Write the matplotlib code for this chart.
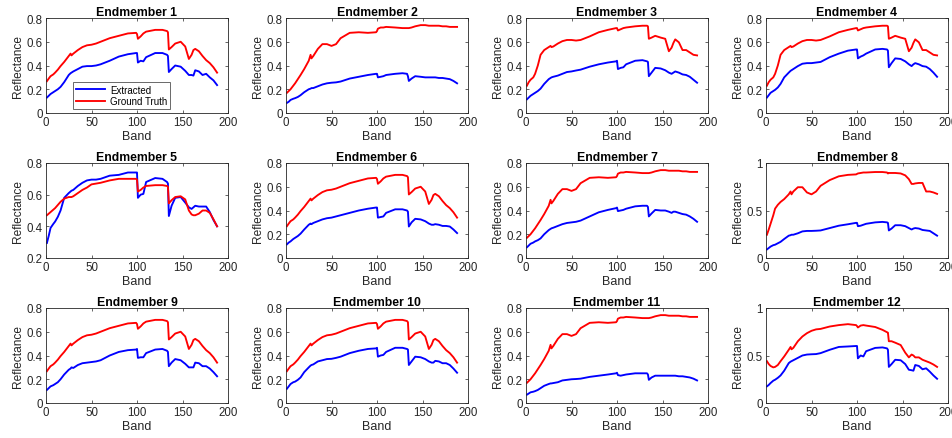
import matplotlib
matplotlib.use("Agg")
import matplotlib.pyplot as plt

plt.rcParams['font.family'] = ['Liberation Sans', 'DejaVu Sans']

bands = [1, 3, 5, 8, 10, 13, 16, 20, 25, 27, 28, 30, 35, 40, 45, 50, 55, 60, 70, 80, 90,
         99, 100, 101, 104, 107, 110, 120, 128, 133, 134, 135, 138, 142, 148, 153, 157,
         160, 162, 164, 168, 172, 176, 180, 184, 188]

# Ground-truth spectra
gt_a = [0.268, 0.29, 0.31, 0.325, 0.34, 0.365, 0.395, 0.43, 0.48, 0.50, 0.485, 0.50, 0.53, 0.555,
        0.57, 0.575, 0.585, 0.60, 0.63, 0.65, 0.67, 0.675, 0.665, 0.625, 0.645, 0.67, 0.685, 0.70,
        0.70, 0.69, 0.68, 0.535, 0.555, 0.585, 0.60, 0.56, 0.455, 0.49, 0.53, 0.54, 0.52, 0.48,
        0.445, 0.42, 0.385, 0.34]
gt_b = [0.17, 0.185, 0.20, 0.23, 0.25, 0.285, 0.32, 0.37, 0.44, 0.49, 0.46, 0.48, 0.54, 0.58,
        0.58, 0.565, 0.58, 0.63, 0.675, 0.68, 0.675, 0.68, 0.69, 0.71, 0.72, 0.72, 0.725, 0.72,
        0.715, 0.715, 0.715, 0.715, 0.72, 0.73, 0.74, 0.74, 0.735, 0.735, 0.735, 0.735, 0.735,
        0.73, 0.73, 0.725, 0.725, 0.725]
gt_c = [0.23, 0.26, 0.28, 0.30, 0.33, 0.40, 0.49, 0.53, 0.555, 0.565, 0.555, 0.56, 0.585, 0.605,
        0.615, 0.615, 0.61, 0.615, 0.645, 0.68, 0.70, 0.715, 0.715, 0.695, 0.705, 0.715, 0.72,
        0.73, 0.735, 0.735, 0.73, 0.625, 0.635, 0.65, 0.635, 0.625, 0.52, 0.55, 0.59, 0.62, 0.595,
        0.53, 0.53, 0.51, 0.49, 0.485]
gt_5 = [0.47, 0.48, 0.49, 0.505, 0.515, 0.535, 0.555, 0.575, 0.585, 0.585, 0.585, 0.59, 0.61,
        0.63, 0.645, 0.665, 0.67, 0.675, 0.69, 0.70, 0.70, 0.70, 0.695, 0.62, 0.63, 0.645, 0.655,
        0.66, 0.66, 0.655, 0.65, 0.545, 0.565, 0.585, 0.59, 0.57, 0.50, 0.475, 0.47, 0.47, 0.48,
        0.50, 0.50, 0.485, 0.445, 0.40]
gt_8 = [0.245, 0.30, 0.36, 0.45, 0.52, 0.56, 0.59, 0.62, 0.67, 0.70, 0.67, 0.70, 0.745, 0.745,
        0.69, 0.67, 0.70, 0.76, 0.82, 0.86, 0.875, 0.88, 0.885, 0.89, 0.895, 0.90, 0.90, 0.905,
        0.905, 0.90, 0.89, 0.895, 0.895, 0.895, 0.89, 0.87, 0.83, 0.78, 0.78, 0.785, 0.79, 0.79,
        0.70, 0.70, 0.69, 0.675]
gt_12 = [0.44, 0.41, 0.39, 0.375, 0.38, 0.40, 0.44, 0.49, 0.56, 0.59, 0.565, 0.58, 0.65, 0.70,
         0.735, 0.76, 0.775, 0.78, 0.805, 0.82, 0.83, 0.82, 0.81, 0.795, 0.815, 0.82, 0.815, 0.80,
         0.77, 0.745, 0.74, 0.65, 0.65, 0.635, 0.61, 0.53, 0.48, 0.51, 0.50, 0.48, 0.48, 0.455,
         0.44, 0.425, 0.405, 0.38]

# Extracted spectra
ex_1 = [0.13, 0.145, 0.16, 0.175, 0.185, 0.20, 0.22, 0.26, 0.32, 0.335, 0.34, 0.35, 0.37, 0.39,
        0.395, 0.395, 0.40, 0.41, 0.44, 0.475, 0.495, 0.505, 0.505, 0.425, 0.44, 0.435, 0.47,
        0.505, 0.505, 0.49, 0.48, 0.345, 0.37, 0.40, 0.39, 0.355, 0.32, 0.32, 0.315, 0.36, 0.35,
        0.32, 0.33, 0.30, 0.275, 0.235]
ex_2 = [0.085, 0.095, 0.11, 0.12, 0.125, 0.135, 0.15, 0.175, 0.20, 0.205, 0.21, 0.21, 0.225,
        0.24, 0.25, 0.255, 0.258, 0.265, 0.29, 0.305, 0.32, 0.33, 0.33, 0.30, 0.305, 0.31, 0.32,
        0.33, 0.335, 0.33, 0.31, 0.27, 0.29, 0.31, 0.305, 0.30, 0.30, 0.30, 0.30, 0.30, 0.295,
        0.295, 0.29, 0.285, 0.27, 0.25]
ex_3 = [0.115, 0.13, 0.145, 0.16, 0.17, 0.185, 0.205, 0.245, 0.285, 0.295, 0.30, 0.305, 0.315,
        0.33, 0.345, 0.35, 0.358, 0.365, 0.39, 0.41, 0.425, 0.435, 0.44, 0.37, 0.38, 0.385, 0.41,
        0.44, 0.445, 0.435, 0.43, 0.31, 0.34, 0.38, 0.375, 0.36, 0.34, 0.33, 0.34, 0.35, 0.34,
        0.325, 0.32, 0.305, 0.28, 0.255]
ex_4 = [0.13, 0.15, 0.17, 0.185, 0.195, 0.215, 0.245, 0.30, 0.34, 0.355, 0.36, 0.37, 0.395,
        0.415, 0.42, 0.42, 0.425, 0.43, 0.47, 0.50, 0.525, 0.535, 0.535, 0.46, 0.475, 0.485, 0.50,
        0.535, 0.54, 0.535, 0.525, 0.385, 0.42, 0.46, 0.455, 0.435, 0.41, 0.395, 0.41, 0.42, 0.41,
        0.395, 0.39, 0.37, 0.34, 0.305]
ex_5 = [0.295, 0.34, 0.39, 0.415, 0.43, 0.46, 0.50, 0.58, 0.61, 0.62, 0.625, 0.63, 0.655, 0.675,
        0.69, 0.695, 0.695, 0.70, 0.72, 0.725, 0.74, 0.74, 0.74, 0.58, 0.60, 0.605, 0.68, 0.705,
        0.70, 0.68, 0.67, 0.465, 0.53, 0.58, 0.585, 0.55, 0.52, 0.51, 0.52, 0.53, 0.525, 0.525,
        0.525, 0.49, 0.44, 0.40]
ex_6 = [0.115, 0.13, 0.14, 0.16, 0.17, 0.185, 0.205, 0.24, 0.28, 0.29, 0.285, 0.295, 0.31, 0.325,
        0.335, 0.34, 0.35, 0.36, 0.38, 0.40, 0.415, 0.425, 0.425, 0.34, 0.345, 0.35, 0.38, 0.41,
        0.41, 0.40, 0.39, 0.265, 0.30, 0.33, 0.325, 0.31, 0.29, 0.28, 0.28, 0.285, 0.28, 0.27,
        0.27, 0.265, 0.24, 0.21]
ex_7 = [0.09, 0.105, 0.12, 0.13, 0.14, 0.15, 0.165, 0.20, 0.235, 0.245, 0.25, 0.255, 0.27, 0.285,
        0.295, 0.30, 0.305, 0.315, 0.35, 0.385, 0.405, 0.42, 0.425, 0.395, 0.40, 0.405, 0.415,
        0.435, 0.44, 0.44, 0.43, 0.35, 0.375, 0.405, 0.40, 0.40, 0.39, 0.38, 0.39, 0.39, 0.38,
        0.37, 0.365, 0.35, 0.33, 0.305]
ex_8 = [0.09, 0.105, 0.12, 0.135, 0.14, 0.155, 0.17, 0.20, 0.235, 0.24, 0.245, 0.245, 0.26, 0.28,
        0.285, 0.285, 0.287, 0.29, 0.315, 0.34, 0.355, 0.37, 0.37, 0.335, 0.34, 0.35, 0.36, 0.375,
        0.38, 0.375, 0.37, 0.29, 0.31, 0.345, 0.345, 0.335, 0.315, 0.30, 0.31, 0.315, 0.31, 0.295,
        0.29, 0.285, 0.26, 0.235]
ex_9 = [0.11, 0.125, 0.14, 0.15, 0.16, 0.175, 0.20, 0.24, 0.28, 0.29, 0.30, 0.295, 0.32, 0.335,
        0.34, 0.345, 0.35, 0.36, 0.40, 0.43, 0.445, 0.45, 0.455, 0.38, 0.385, 0.385, 0.42, 0.45,
        0.455, 0.44, 0.43, 0.31, 0.34, 0.37, 0.36, 0.33, 0.30, 0.30, 0.30, 0.34, 0.335, 0.31, 0.31,
        0.29, 0.26, 0.225]
ex_10 = [0.12, 0.14, 0.16, 0.175, 0.18, 0.195, 0.215, 0.26, 0.30, 0.315, 0.32, 0.325, 0.35, 0.36,
         0.37, 0.372, 0.38, 0.39, 0.42, 0.44, 0.455, 0.46, 0.465, 0.39, 0.40, 0.405, 0.43, 0.465,
         0.465, 0.455, 0.45, 0.32, 0.35, 0.39, 0.385, 0.37, 0.35, 0.34, 0.34, 0.355, 0.35, 0.335,
         0.335, 0.32, 0.29, 0.255]
ex_11 = [0.07, 0.08, 0.09, 0.095, 0.10, 0.11, 0.125, 0.145, 0.16, 0.165, 0.165, 0.168, 0.175,
         0.19, 0.195, 0.20, 0.202, 0.205, 0.22, 0.23, 0.24, 0.25, 0.255, 0.235, 0.23, 0.235, 0.24,
         0.25, 0.25, 0.25, 0.24, 0.195, 0.215, 0.23, 0.23, 0.23, 0.23, 0.23, 0.23, 0.23, 0.225,
         0.225, 0.22, 0.215, 0.205, 0.19]
ex_12 = [0.175, 0.19, 0.21, 0.235, 0.245, 0.265, 0.29, 0.34, 0.42, 0.435, 0.44, 0.45, 0.475, 0.50,
         0.51, 0.513, 0.515, 0.525, 0.56, 0.59, 0.595, 0.60, 0.60, 0.47, 0.50, 0.49, 0.545, 0.58,
         0.585, 0.575, 0.56, 0.38, 0.41, 0.455, 0.45, 0.41, 0.35, 0.345, 0.34, 0.40, 0.39, 0.355,
         0.365, 0.33, 0.29, 0.255]

titles = ["Endmember %d" % i for i in range(1, 13)]
extracted = [ex_1, ex_2, ex_3, ex_4, ex_5, ex_6, ex_7, ex_8, ex_9, ex_10, ex_11, ex_12]
ground = [gt_a, gt_b, gt_c, gt_c, gt_5, gt_a, gt_b, gt_8, gt_a, gt_a, gt_b, gt_12]
ylims = [(0, 0.8)] * 4 + [(0.2, 0.8), (0, 0.8), (0, 0.8), (0, 1)] + [(0, 0.8)] * 3 + [(0, 1)]
yticks_08 = [0, 0.2, 0.4, 0.6, 0.8]
yticks_5 = [0.2, 0.4, 0.6, 0.8]
yticks_1 = [0, 0.5, 1]
xticks = [0, 50, 100, 150, 200]

W, H = 952, 439
fig = plt.figure(figsize=(W / 100, H / 100), dpi=100)
axcol = (0.15, 0.15, 0.15)

for i in range(12):
    r, c = divmod(i, 4)
    left = 46 + 240 * c
    top = 19 + 145 * r
    ax = fig.add_axes([left / W, 1 - (top + 95) / H, 182 / W, 95 / H])
    l1, = ax.plot(bands, extracted[i], color=(0, 0, 1), lw=1.35)
    l2, = ax.plot(bands, ground[i], color=(1, 0, 0), lw=1.35)
    ax.set_xlim(0, 200)
    ax.set_ylim(*ylims[i])
    ax.set_xticks(xticks)
    ax.set_xticklabels([str(v) for v in xticks])
    if ylims[i] == (0, 1):
        ax.set_yticks(yticks_1)
        ax.set_yticklabels(["0", "0.5", "1"])
    elif ylims[i] == (0.2, 0.8):
        ax.set_yticks(yticks_5)
        ax.set_yticklabels(["0.2", "0.4", "0.6", "0.8"])
    else:
        ax.set_yticks(yticks_08)
        ax.set_yticklabels(["0", "0.2", "0.4", "0.6", "0.8"])
    ax.tick_params(direction='in', top=True, right=True, length=2.5, width=0.5,
                   labelsize=8.3, colors=axcol, pad=2.5)
    for s in ax.spines.values():
        s.set_linewidth(0.6)
        s.set_color(axcol)
    ax.set_title(titles[i], fontsize=8.8, fontweight='bold', pad=2.5, color='black')
    ax.set_xlabel("Band", fontsize=9, labelpad=1, color=axcol)
    ax.set_ylabel("Reflectance", fontsize=8.6, labelpad=2, color=axcol)
    if i == 0:
        leg = ax.legend([l1, l2], ["Extracted", "Ground Truth"], loc='lower left',
                        bbox_to_anchor=(0.148, 0.04), fontsize=7, handlelength=3.0,
                        borderaxespad=0, frameon=True, fancybox=False, borderpad=0.3,
                        labelspacing=0.15, handletextpad=0.5)
        leg.get_frame().set_edgecolor(axcol)
        leg.get_frame().set_linewidth(0.6)

fig.savefig("out.png", dpi=100)
